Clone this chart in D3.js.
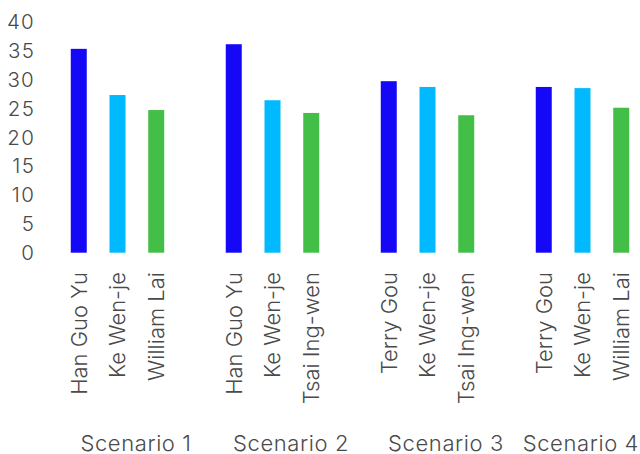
<!DOCTYPE html>
<html><head><meta charset="utf-8">
<script src="https://cdn.jsdelivr.net/npm/d3@7"></script>
<style>body{margin:0;background:#fff}svg{display:block}text{font-family:Inter,"Open Sans",sans-serif;font-weight:300;fill:#4a4a4a}</style>
</head><body>
<script>
const scenarios = ["Scenario 1","Scenario 2","Scenario 3","Scenario 4"];
const candidates = [
  ["Han Guo Yu","Ke Wen-je","William Lai"],
  ["Han Guo Yu","Ke Wen-je","Tsai Ing-wen"],
  ["Terry Gou","Ke Wen-je","Tsai Ing-wen"],
  ["Terry Gou","Ke Wen-je","William Lai"]
];
const values = [
  [35.3, 27.3, 24.7],
  [36.1, 26.4, 24.2],
  [29.7, 28.7, 23.8],
  [28.7, 28.5, 25.1]
];
const colors = ["#1508f7","#00b9ff","#43be46"];
const yTicks = [0,5,10,15,20,25,30,35,40];

const W = 640, H = 454;
const svg = d3.select("body").append("svg").attr("width", W).attr("height", H);

const y = d3.scaleLinear().domain([0,40]).range([252.7, 21.7]);
const x0 = d3.scaleBand().domain(scenarios).range([40, 660]);
const x1 = d3.scaleBand().domain([0,1,2]).range([0, x0.bandwidth()]).paddingInner(0.587).paddingOuter(0.794);

// y tick labels
svg.append("g").selectAll("text").data(yTicks).join("text")
  .attr("x", 35).attr("y", d => y(d)).attr("dy", "0.36em")
  .attr("text-anchor", "end").style("font-size", "20.5px").style("letter-spacing", "1.2px").text(d => d);

// bars
const g = svg.append("g");
scenarios.forEach((s, i) => {
  g.selectAll(null).data(values[i]).join("rect")
    .attr("x", (d, j) => x0(s) + x1(j))
    .attr("width", x1.bandwidth())
    .attr("y", d => y(d))
    .attr("height", d => y(0) - y(d))
    .attr("fill", (d, j) => colors[j]);
});

// rotated candidate labels, centred on their bars
scenarios.forEach((s, i) => {
  svg.append("g").selectAll("text").data(candidates[i]).join("text")
    .attr("transform", (d, j) => `translate(${x0(s) + x1(j) + x1.bandwidth()/2},272) rotate(-90)`)
    .attr("dy", "0.36em")
    .attr("text-anchor", "end")
    .style("font-size", "22px")
    .text(d => d);
});

// scenario labels
const rightLimit = 639;
svg.append("g").selectAll("text").data(scenarios).join("text")
  .attr("y", 450.5)
  .attr("text-anchor", "middle")
  .style("font-size", "22px")
  .style("letter-spacing", "0.6px")
  .text(d => d)
  .each(function(d) {
    const w = this.getComputedTextLength();
    let cx = x0(d) + x0.bandwidth()/2 + 18.5;
    if (cx + w/2 > rightLimit) cx = rightLimit - w/2;
    d3.select(this).attr("x", cx);
  });
</script>
</body></html>
